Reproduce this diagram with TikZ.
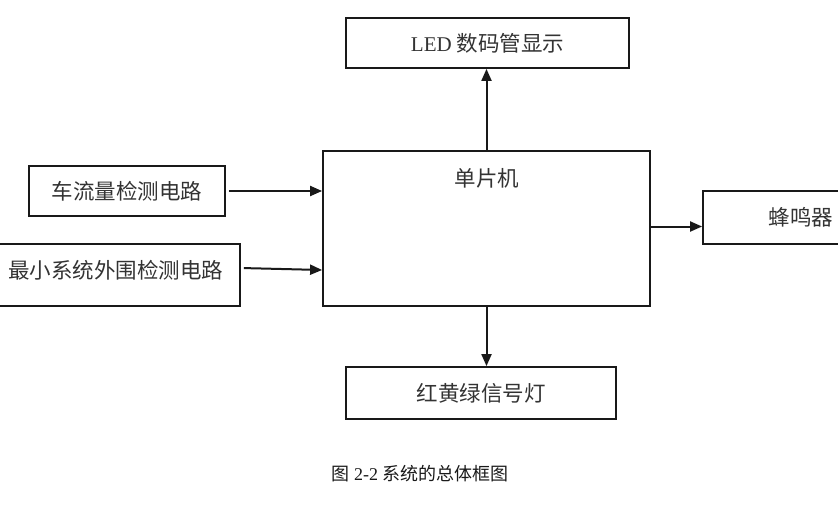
\documentclass[tikz,border=0pt]{standalone}
\usepackage{fontspec}
\setmainfont{Liberation Serif}
\newfontfamily\cjk{Noto Sans CJK SC}
\usetikzlibrary{arrows.meta}
\begin{document}
\begin{tikzpicture}[x=1pt,y=-1pt,
  box/.style={draw=black!90, line width=1.8pt, inner sep=0pt, text=black!80, font=\fontsize{21.5}{23}\selectfont\cjk},
  arr/.style={-{Triangle[length=12pt,width=10pt]}, line width=2pt, draw=black!90, fill=black!90}]
\useasboundingbox (0,0) rectangle (838,506);
\clip (0,0) rectangle (838,506);
\node[box, minimum width=283pt, minimum height=50pt] (led) at (487.5,43) {{\fontsize{21}{22}\selectfont\rmfamily LED} 数码管显示};
\node[box, minimum width=327pt, minimum height=155pt] (mcu) at (486.5,228.5) {};
\node[text=black!80, font=\fontsize{21.5}{23}\selectfont\cjk] (mcut) at (487,178) {单片机};
\node[box, minimum width=196pt, minimum height=50pt] (car) at (127,191) {车流量检测电路};
\node[box, minimum width=248pt, minimum height=62pt, text depth=12pt] (minb) at (116,275) {最小系统外围检测电路};
\node[box, minimum width=196pt, minimum height=53pt] (buz) at (801,217.5) {蜂鸣器};
\node[box, minimum width=270pt, minimum height=52pt] (light) at (481,393) {红黄绿信号灯};
\draw[arr] (mcu.north) -- (mcu.north |- led.south);
\draw[arr, shorten <=3pt] (car.east) -- (car.east -| mcu.west);
\draw[arr, shorten <=3pt] ([yshift=7pt]minb.east) -- ([yshift=5pt]minb.east -| mcu.west);
\draw[arr] ([yshift=2pt]mcu.east) -- ([yshift=2pt]mcu.east -| buz.west);
\draw[arr] (mcu.south) -- (mcu.south |- light.north);
\node[font=\fontsize{18}{20}\selectfont\cjk, text=black!90] (cap) at (420,474) {图 {\rmfamily 2-2} 系统的总体框图};
\end{tikzpicture}
\end{document}
